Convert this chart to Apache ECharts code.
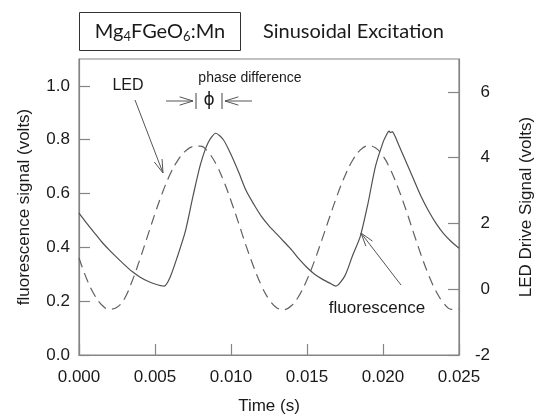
<!DOCTYPE html>
<html>
<head>
<meta charset="utf-8">
<script src="https://cdn.jsdelivr.net/npm/echarts@6/dist/echarts.min.js"></script>
<style>html,body{margin:0;padding:0;background:#fff;}#c{width:545px;height:415px;}</style>
</head>
<body>
<div id="c"></div>
<script>
// Fluorescence signal (left axis, volts)
const fluorTime = [0, 0.0005, 0.001, 0.0015, 0.002, 0.0025, 0.003, 0.0035, 0.004, 0.0045, 0.005, 0.0056, 0.006, 0.0065, 0.007, 0.0075, 0.008, 0.0085, 0.009, 0.0095, 0.010, 0.0105, 0.011, 0.0115, 0.012, 0.0125, 0.013, 0.0135, 0.014, 0.0145, 0.015, 0.0155, 0.016, 0.0165, 0.0169, 0.0175, 0.018, 0.0185, 0.019, 0.0195, 0.020, 0.0202, 0.0204, 0.0205, 0.0206, 0.0208, 0.021, 0.0215, 0.022, 0.0225, 0.023, 0.0235, 0.024, 0.0245, 0.025];
const fluorVolts = [0.527, 0.49, 0.455, 0.42, 0.39, 0.362, 0.335, 0.31, 0.29, 0.275, 0.264, 0.256, 0.29, 0.37, 0.46, 0.59, 0.71, 0.79, 0.824, 0.80, 0.745, 0.68, 0.61, 0.56, 0.515, 0.48, 0.45, 0.42, 0.39, 0.355, 0.325, 0.30, 0.282, 0.267, 0.256, 0.295, 0.37, 0.44, 0.56, 0.70, 0.79, 0.815, 0.832, 0.826, 0.83, 0.812, 0.785, 0.72, 0.655, 0.59, 0.535, 0.488, 0.45, 0.421, 0.397];
// LED drive signal (right axis, volts)
const ledTime = [0, 0.0005, 0.001, 0.0015, 0.002, 0.0025, 0.003, 0.0035, 0.004, 0.0045, 0.005, 0.0055, 0.006, 0.0065, 0.007, 0.0075, 0.008, 0.0085, 0.009, 0.0095, 0.010, 0.0105, 0.011, 0.0115, 0.012, 0.0125, 0.013, 0.0135, 0.014, 0.0145, 0.015, 0.0155, 0.016, 0.0165, 0.017, 0.0175, 0.018, 0.0185, 0.019, 0.0195, 0.020, 0.0205, 0.021, 0.0215, 0.022, 0.0225, 0.023, 0.0235, 0.024, 0.0245, 0.025];
const ledVolts = [0.95, 0.32, -0.16, -0.48, -0.61, -0.55, -0.28, 0.25, 0.9, 1.6, 2.3, 2.95, 3.5, 3.92, 4.2, 4.34, 4.35, 4.17, 3.82, 3.31, 2.69, 2.01, 1.31, 0.67, 0.11, -0.31, -0.56, -0.62, -0.49, -0.18, 0.29, 0.87, 1.53, 2.21, 2.87, 3.45, 3.92, 4.23, 4.36, 4.30, 4.05, 3.63, 3.07, 2.43, 1.73, 1.05, 0.43, -0.07, -0.43, -0.61, -0.60];
// Axis ticks
const xTicks = [0, 0.005, 0.010, 0.015, 0.020, 0.025];
const leftTicks = [0.0, 0.2, 0.4, 0.6, 0.8, 1.0];
const rightTicks = [-2, 0, 2, 4, 6];

const chart = echarts.init(document.getElementById('c'), null, {renderer: 'canvas'});
const axisColor = '#858585';
const txt = '#1a1a1a';
const labelFont = {fontFamily: 'Liberation Sans, Arial, sans-serif', fontSize: 17, color: txt};

function arrowHead(tip, from, len, ang) {
  const dx = from[0] - tip[0], dy = from[1] - tip[1];
  const L = Math.hypot(dx, dy);
  const ux = dx / L, uy = dy / L;
  const out = [];
  [ang, -ang].forEach(a => {
    const c = Math.cos(a), s = Math.sin(a);
    const rx = ux * c - uy * s, ry = ux * s + uy * c;
    out.push({type: 'line', shape: {x1: tip[0], y1: tip[1], x2: tip[0] + rx * len, y2: tip[1] + ry * len}, style: {stroke: '#555', lineWidth: 1}});
  });
  return out;
}
function arrow(from, tip) {
  return [{type: 'line', shape: {x1: from[0], y1: from[1], x2: tip[0], y2: tip[1]}, style: {stroke: '#555', lineWidth: 1}}].concat(arrowHead(tip, from, 14, 0.3));
}

const graphics = [
  {type: 'rect', shape: {x: 79.5, y: 12.5, width: 161, height: 38}, style: {fill: 'none', stroke: '#333', lineWidth: 1}},
  {type: 'text', x: 160, y: 32, style: {text: '{n|Mg}{s|4}{n|FGeO}{s|6}{n|:Mn}', align: 'center', verticalAlign: 'middle',
    rich: {n: {fontFamily: 'Lato, Open Sans, sans-serif', fontSize: 20, fill: txt, verticalAlign: 'middle'},
           s: {fontFamily: 'Lato, Open Sans, sans-serif', fontSize: 13, fill: txt, padding: [10, 0, 0, 0]}}}},
  {type: 'text', x: 263, y: 32, style: {text: 'Sinusoidal Excitation', align: 'left', verticalAlign: 'middle', fontFamily: 'Lato, Open Sans, sans-serif', fontSize: 20, fill: txt}},
  {type: 'text', x: 128, y: 86, style: {text: 'LED', align: 'center', verticalAlign: 'middle', fontFamily: 'Liberation Sans, Arial, sans-serif', fontSize: 16, fill: txt}},
  {type: 'text', x: 250, y: 78, style: {text: 'phase difference', align: 'center', verticalAlign: 'middle', fontFamily: 'Liberation Sans, Arial, sans-serif', fontSize: 14, fill: txt}},
  {type: 'text', x: 209, y: 101, style: {text: 'ϕ', align: 'center', verticalAlign: 'middle', fontFamily: 'DejaVu Sans, sans-serif', fontSize: 17, fill: txt}},
  {type: 'line', shape: {x1: 196, y1: 93, x2: 196, y2: 109}, style: {stroke: '#444', lineWidth: 1}},
  {type: 'line', shape: {x1: 222, y1: 93, x2: 222, y2: 109}, style: {stroke: '#444', lineWidth: 1}},
  {type: 'text', x: 377, y: 308, style: {text: 'fluorescence', align: 'center', verticalAlign: 'middle', fontFamily: 'Liberation Sans, Arial, sans-serif', fontSize: 17, fill: txt}}
].concat(arrow([135, 100], [163, 173]))
 .concat(arrow([166, 101], [193, 101]))
 .concat(arrow([252, 101], [225, 101]))
 .concat(arrow([401, 285], [361, 233]));

chart.setOption({
  animation: false,
  backgroundColor: '#fff',
  grid: {left: 79, right: 86, top: 59, bottom: 60, show: true, outerBoundsMode: 'none', containLabel: false,
         borderColor: axisColor, borderWidth: 1.2, backgroundColor: 'transparent'},
  xAxis: {
    type: 'value', min: xTicks[0], max: xTicks[xTicks.length - 1], interval: 0.005,
    name: 'Time (s)', nameLocation: 'middle', nameGap: 43,
    nameTextStyle: labelFont,
    axisLine: {show: true, lineStyle: {color: axisColor, width: 1.2}},
    axisTick: {show: true, inside: true, length: 11, lineStyle: {color: axisColor, width: 1.2}},
    axisLabel: Object.assign({margin: 14, formatter: v => v.toFixed(3)}, labelFont),
    splitLine: {show: false}
  },
  yAxis: [{
    type: 'value', min: 0, max: 1.1, interval: 0.2, position: 'left',
    name: 'fluorescence signal (volts)', nameLocation: 'middle', nameGap: 46, nameRotate: 90,
    nameTextStyle: labelFont,
    axisLine: {show: true, lineStyle: {color: axisColor, width: 1.2}},
    axisTick: {show: true, inside: true, length: 11, lineStyle: {color: axisColor, width: 1.2}},
    axisLabel: Object.assign({margin: 9, showMaxLabel: false, formatter: v => leftTicks.some(t => Math.abs(t - v) < 1e-9) ? v.toFixed(1) : ''}, labelFont),
    splitLine: {show: false}
  }, {
    type: 'value', min: -2, max: 7, interval: 2, position: 'right',
    name: 'LED Drive Signal (volts)', nameLocation: 'middle', nameGap: 59, nameRotate: 90,
    nameTextStyle: labelFont,
    axisLine: {show: true, lineStyle: {color: axisColor, width: 1.2}},
    axisTick: {show: true, inside: true, length: 11, lineStyle: {color: axisColor, width: 1.2}},
    axisLabel: Object.assign({margin: 31, align: 'right', showMaxLabel: false, formatter: v => rightTicks.includes(v) ? String(v) : ''}, labelFont),
    splitLine: {show: false}
  }],
  series: [{
    type: 'line', name: 'fluorescence', yAxisIndex: 0, showSymbol: false, smooth: 0.25,
    data: fluorTime.map((t, i) => [t, fluorVolts[i]]),
    lineStyle: {color: '#505050', width: 1.2}
  }, {
    type: 'line', name: 'LED', yAxisIndex: 1, showSymbol: false, smooth: 0.4,
    data: ledTime.map((t, i) => [t, ledVolts[i]]),
    lineStyle: {color: '#606060', width: 1.2, type: [10, 6]}
  }],
  graphic: graphics
});
</script>
</body>
</html>
